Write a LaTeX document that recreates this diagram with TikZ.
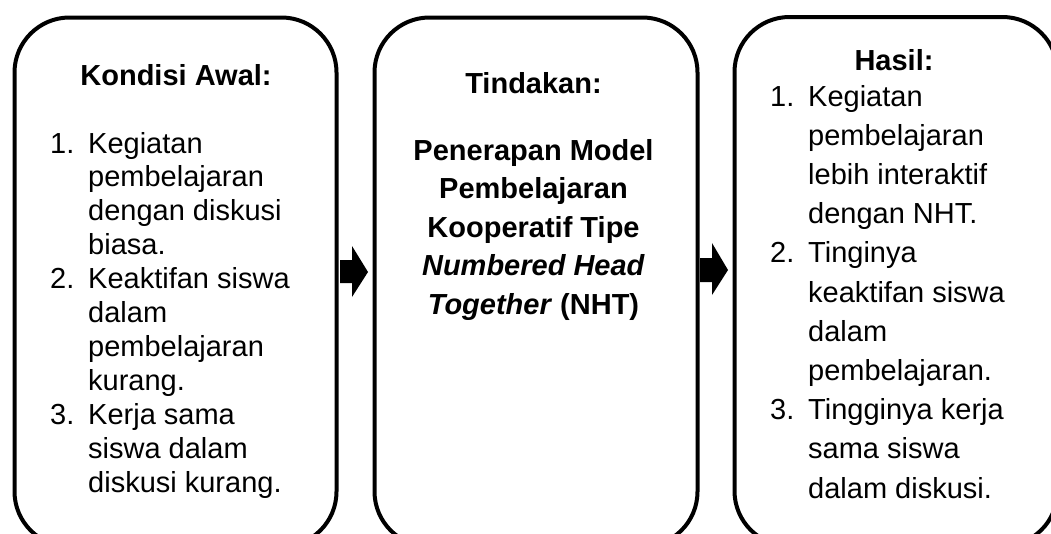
\documentclass[tikz,border=0pt]{standalone}
\usepackage{fontspec}
\setmainfont{Liberation Sans}
\begin{document}
\begin{tikzpicture}[x=1pt,y=-1pt,
  boxshape/.style={draw=black, line width=4pt, rounded corners=55pt, inner sep=0pt, anchor=north west, minimum width=323pt, minimum height=529pt},
  txt/.style={font=\fontsize{29}{33}\selectfont, inner sep=0pt, anchor=base west},
  ttl/.style={font=\fontsize{29}{33}\selectfont\bfseries, inner sep=0pt, anchor=base},
  blockarrow/.style={fill=black}]
\useasboundingbox (0,0) rectangle (1051,533);
\clip (0,0) rectangle (1051,533);
% boxes
\node[boxshape, minimum width=322pt] (b1) at (12.5,15.5) {};
\node[boxshape] (b2) at (372.5,15.5) {};
\node[boxshape] (b3) at (732.5,15) {};
% block arrows
\fill[blockarrow] (340,260) -- (352,260) -- (352,246) -- (368,272) -- (352,297) -- (352,283) -- (340,283) -- cycle;
\fill[blockarrow] (700,258) -- (712,258) -- (712,243) -- (728,270) -- (712,295) -- (712,282) -- (700,282) -- cycle;
% box 1
\node[ttl] (t1) at (176,85) {Kondisi Awal:};
\node[txt] (n11) at (50,153) {1.};
\node[txt] (n12) at (50,288.6) {2.};
\node[txt] (n13) at (50,424.2) {3.};
\foreach \t [count=\i] in {Kegiatan,pembelajaran,dengan diskusi,biasa.,Keaktifan siswa,dalam,pembelajaran,kurang.,Kerja sama,siswa dalam,diskusi kurang.}
  \node[txt] (a\i) at (88,{153+33.9*(\i-1)}) {\t};
% box 2
\node[ttl] (t2) at (533.5,93) {Tindakan:};
\foreach \t [count=\i] in {Penerapan Model,Pembelajaran,Kooperatif Tipe,\textit{Numbered Head},\textit{Together} (NHT)}
  \node[ttl] (m\i) at (533.5,{160+38.5*(\i-1)}) {\t};
% box 3
\node[ttl] (t3) at (894,70) {Hasil:};
\node[txt] (n31) at (770,106) {1.};
\node[txt] (n32) at (770,262.8) {2.};
\node[txt] (n33) at (770,419.6) {3.};
\foreach \t [count=\i] in {Kegiatan,pembelajaran,lebih interaktif,dengan NHT.,Tinginya,keaktifan siswa,dalam,pembelajaran.,Tingginya kerja,sama siswa,dalam diskusi.}
  \node[txt] (c\i) at (808,{106+39.2*(\i-1)}) {\t};
\end{tikzpicture}
\end{document}
